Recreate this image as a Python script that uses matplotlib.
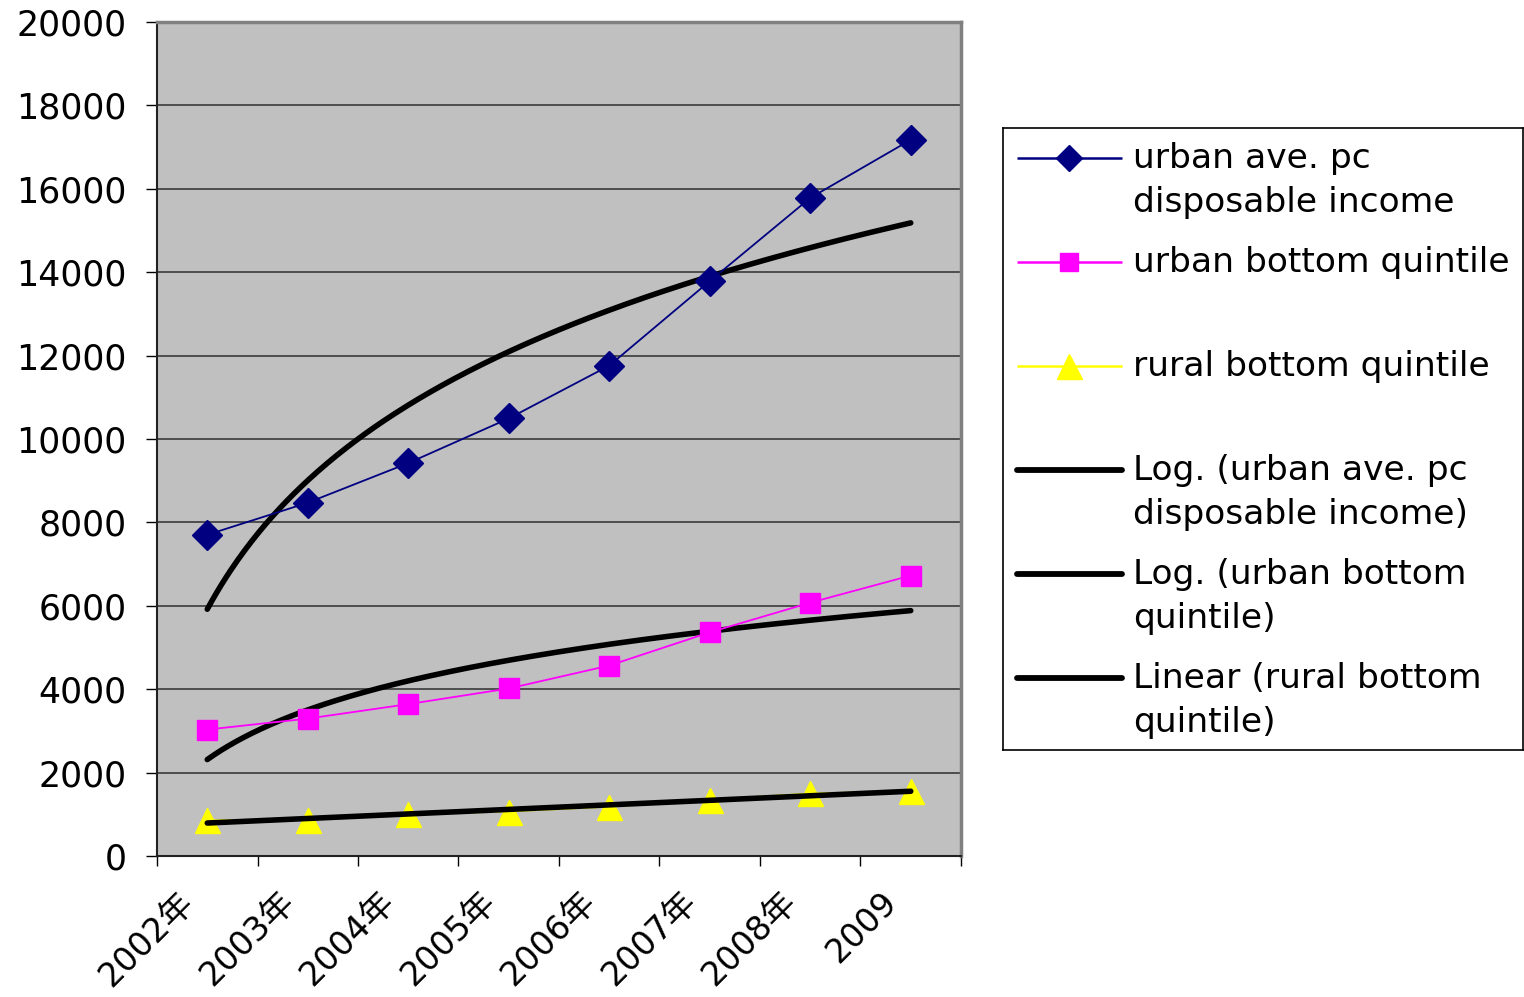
import numpy as np
import matplotlib
matplotlib.use("Agg")
import matplotlib.pyplot as plt
from matplotlib.lines import Line2D

plt.rcParams['font.family'] = ['DejaVu Sans', 'Noto Sans CJK SC']

# ---- data ----
years = ["2002年", "2003年", "2004年", "2005年", "2006年", "2007年", "2008年", "2009"]
urban_ave = [7703, 8472, 9422, 10493, 11759, 13786, 15781, 17175]
urban_bottom = [3032, 3295, 3642, 4017, 4567, 5364, 6075, 6725]
rural_bottom = [857, 866, 1007, 1067, 1182, 1347, 1500, 1549]

series_names = ["urban ave. pc\ndisposable income", "urban bottom quintile", "rural bottom quintile",
                "Log. (urban ave. pc\ndisposable income)", "Log. (urban bottom\nquintile)",
                "Linear (rural bottom\nquintile)"]

x = np.arange(1, len(years) + 1)

# trendlines (least-squares fits as Excel does)
def log_fit(y):
    a, b = np.polyfit(np.log(x), y, 1)
    return a, b

xs = np.linspace(1, len(years), 300)
a1, b1 = log_fit(urban_ave)
a2, b2 = log_fit(urban_bottom)
m3, c3 = np.polyfit(x, rural_bottom, 1)

W, H = 1524, 997
fig = plt.figure(figsize=(W / 100, H / 100), dpi=100)
ax = fig.add_axes([157 / W, 1 - 856 / H, (961 - 157) / W, (856 - 22) / H])
ax.set_facecolor('#C0C0C0')

ax.set_xlim(0.5, len(years) + 0.5)
ax.set_ylim(0, 20000)
ax.set_yticks(np.arange(0, 20001, 2000))
ax.yaxis.grid(True, color='#3a3a3a', lw=1.2)
ax.set_axisbelow(True)

fs = 25
ax.tick_params(axis='y', labelsize=fs, length=8, width=1, direction='out', pad=14, colors='black')
ax.set_xticks(np.arange(0.5, len(years) + 1.0, 1.0))
ax.set_xticklabels([])
ax.tick_params(axis='x', length=7, width=1, direction='out')

for s in ['top', 'right']:
    ax.spines[s].set_color('#808080')
    ax.spines[s].set_linewidth(2.5)
ax.spines['left'].set_color('#222222')
ax.spines['left'].set_linewidth(1.5)
ax.spines['bottom'].set_color('#222222')
ax.spines['bottom'].set_linewidth(1.5)

# category labels (rotated, like Excel)
for i, lab in enumerate(years):
    ax.text(x[i] - 0.3, -0.035, lab, transform=ax.get_xaxis_transform(),
            rotation=45, ha='right', va='top', rotation_mode='anchor',
            fontsize=24, family=['DejaVu Sans', 'Noto Sans CJK SC'])

# trendlines
ax.plot(xs, a1 * np.log(xs) + b1, color='black', lw=4, solid_capstyle='round', zorder=4)
ax.plot(xs, a2 * np.log(xs) + b2, color='black', lw=4, solid_capstyle='round', zorder=4)

# data series
ax.plot(x, urban_ave, color='#000080', lw=1.3, marker='D', ms=15, mfc='#000080', mec='#000080', zorder=5)
ax.plot(x, urban_bottom, color='#FF00FF', lw=1.3, marker='s', ms=14, mfc='#FF00FF', mec='#FF00FF', zorder=5)
ax.plot(x, rural_bottom, color='#FFFF00', lw=1.3, marker='^', ms=18, mfc='#FFFF00', mec='#FFFF00', zorder=5)
ax.plot(xs, m3 * xs + c3, color='black', lw=4, solid_capstyle='round', zorder=6)

# ---- legend (manual, Excel style) ----
lax = fig.add_axes([1003 / W, 1 - 750 / H, 520 / W, 622 / H])
lax.set_xlim(0, 520)
lax.set_ylim(622, 0)
lax.set_xticks([])
lax.set_yticks([])
for s in lax.spines.values():
    s.set_color('black')
    s.set_linewidth(1.2)
lax.set_facecolor('white')

handles = [
    dict(color='#000080', lw=1.8, marker='D', ms=13),
    dict(color='#FF00FF', lw=1.8, marker='s', ms=13),
    dict(color='#FFFF00', lw=1.8, marker='^', ms=18),
    dict(color='black', lw=4.2, marker=None, ms=0),
    dict(color='black', lw=4.2, marker=None, ms=0),
    dict(color='black', lw=4.2, marker=None, ms=0),
]
for k, (name, h) in enumerate(zip(series_names, handles)):
    yy = 30 + 104 * k
    lax.add_line(Line2D([14, 119], [yy, yy], color=h['color'], lw=h['lw'],
                        solid_capstyle='round' if h['marker'] is None else 'butt'))
    if h['marker']:
        lax.add_line(Line2D([66], [yy], color=h['color'], marker=h['marker'], ms=h['ms'],
                            mfc=h['color'], mec=h['color']))
    for j, line in enumerate(name.split('\n')):
        lax.text(130, yy + 10 + 44 * j, line, fontsize=24.8, ha='left', va='baseline')

fig.savefig('out.png', dpi=100, facecolor='white')
